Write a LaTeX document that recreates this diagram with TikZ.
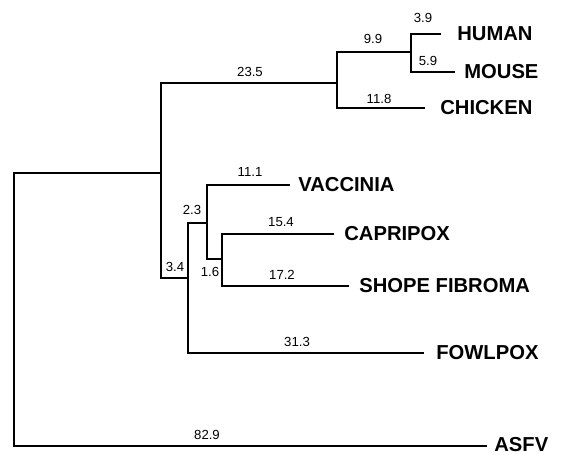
\documentclass[tikz,border=0pt]{standalone}
\usepackage{fontspec}
\setmainfont{Liberation Sans}
\usetikzlibrary{positioning}
\tikzset{
  branch/.style={
    line width = 1.2pt,
    line cap = rect
  },
  taxon/.style={
    font = \fontsize{11.5}{12}\selectfont\bfseries,
    inner sep = 0pt
  },
  blen/.style={
    font = \fontsize{7.5}{8}\selectfont,
    inner sep = 0pt
  }
}

\begin{document}
\begin{tikzpicture}[x=0.02cm, y=-0.02cm]
\useasboundingbox (0,0) rectangle (563,455);

       % branching points
       \coordinate (root) at (14,173);
       \coordinate (nA) at (161,173);
       \coordinate (nVert) at (337,83);
       \coordinate (nHM) at (411,52);
       \coordinate (nPox) at (188,278);
       \coordinate (nVC) at (207,223);
       \coordinate (nCS) at (222,259);

       % tips
       \coordinate (humanE) at (440,34);
       \coordinate (mouseE) at (454,72);
       \coordinate (chickenE) at (424,108);
       \coordinate (vacciniaE) at (289,185);
       \coordinate (capripoxE) at (333,234);
       \coordinate (shopeE) at (348,286);
       \coordinate (fowlpoxE) at (423,353);
       \coordinate (asfvE) at (486,446);

       \draw[branch] (root) -- (nA);
       \draw[branch] (root) |- (asfvE);
       \draw[branch] (nA) |- (nVert);
       \draw[branch] (nA) |- (nPox);
       \draw[branch] (nVert) |- (nHM);
       \draw[branch] (nVert) |- (chickenE);
       \draw[branch] (nHM) |- (humanE);
       \draw[branch] (nHM) |- (mouseE);
       \draw[branch] (nPox) |- (nVC);
       \draw[branch] (nPox) |- (fowlpoxE);
       \draw[branch] (nVC) |- (vacciniaE);
       \draw[branch] (nVC) |- (nCS);
       \draw[branch] (nCS) |- (capripoxE);
       \draw[branch] (nCS) |- (shopeE);

       \node[taxon, right=0.34cm of humanE] (human) {HUMAN};
       \node[taxon, right=0.2cm of mouseE] (mouse) {MOUSE};
       \node[taxon, right=0.32cm of chickenE] (chicken) {CHICKEN};
       \node[taxon, right=0.18cm of vacciniaE] (vaccinia) {VACCINIA};
       \node[taxon, right=0.22cm of capripoxE] (capripox) {CAPRIPOX};
       \node[taxon, right=0.22cm of shopeE] (shope) {SHOPE FIBROMA};
       \node[taxon, right=0.26cm of fowlpoxE] (fowlpox) {FOWLPOX};
       \node[taxon, right=0.16cm of asfvE, yshift=0.02cm] (asfv) {ASFV};

       % branch lengths
       \node[blen] (l39) at (423,18) {3.9};
       \node[blen] (l99) at (373,39) {9.9};
       \node[blen] (l59) at (428,61) {5.9};
       \node[blen] (l235) at (250,72) {23.5};
       \node[blen] (l118) at (379,99) {11.8};
       \node[blen] (l111) at (250,172) {11.1};
       \node[blen] (l23) at (192,210) {2.3};
       \node[blen] (l154) at (281,222) {15.4};
       \node[blen] (l34) at (175,267) {3.4};
       \node[blen] (l16) at (210,272) {1.6};
       \node[blen] (l172) at (282,275) {17.2};
       \node[blen] (l313) at (297,342) {31.3};
       \node[blen] (l829) at (207,435) {82.9};
\end{tikzpicture}
\end{document}
